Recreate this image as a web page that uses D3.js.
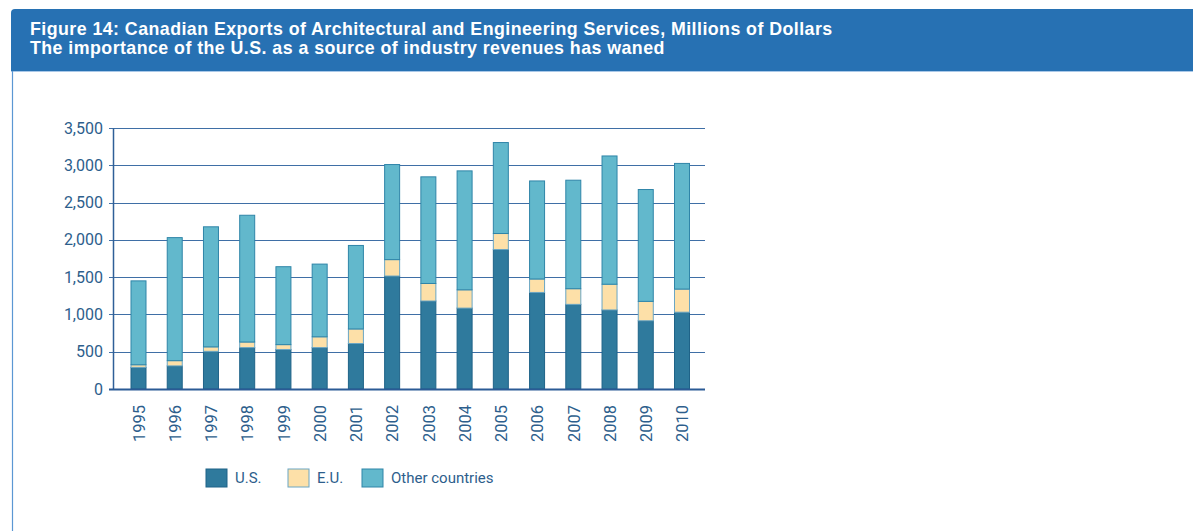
<!DOCTYPE html>
<html>
<head>
<meta charset="utf-8">
<script src="https://cdn.jsdelivr.net/npm/d3@7/dist/d3.min.js"></script>
<style>
  html, body { margin: 0; padding: 0; background: #ffffff; }
  svg { display: block; }
</style>
</head>
<body>
<script>
// Canadian exports of architectural and engineering services ($ millions)
const years = ["1995","1996","1997","1998","1999","2000","2001","2002",
               "2003","2004","2005","2006","2007","2008","2009","2010"];
const usValues    = [290, 310, 505, 555, 530, 555, 610, 1515, 1180, 1085, 1870, 1295, 1135, 1060, 915, 1030];
const euValues    = [35, 70, 60, 75, 65, 145, 195, 220, 235, 245, 215, 180, 210, 345, 260, 310];
const otherValues = [1125, 1650, 1610, 1700, 1045, 975, 1120, 1275, 1430, 1595, 1220, 1315, 1455, 1720, 1500, 1685];
const seriesNames = ["U.S.", "E.U.", "Other countries"];
const yTicks = [0, 500, 1000, 1500, 2000, 2500, 3000, 3500];
const titleLines = [
  "Figure 14: Canadian Exports of Architectural and Engineering Services, Millions of Dollars",
  "The importance of the U.S. as a source of industry revenues has waned"
];

const W = 1193, H = 531;
const fills   = ["#2f7a9d", "#fde0a8", "#62b8cc"];
const strokes = ["#1f6388", "#6aa6c4", "#2f85a8"];
const textColor = "#2d5e8c";
const font = "Roboto, 'Liberation Sans', Arial, sans-serif";

const svg = d3.select("body").append("svg").attr("width", W).attr("height", H);

// Panel: header band with a thin left rule running down the page
svg.append("path")
  .attr("d", `M11,71 L11,13 Q11,9 15,9 L${W},9 L${W},71 Z`)
  .attr("fill", "#2771b3");
svg.append("line").attr("x1", 11).attr("x2", W).attr("y1", 71.5).attr("y2", 71.5)
  .attr("stroke", "#a9c8e8").attr("stroke-width", 1);
svg.append("line").attr("x1", 12.5).attr("x2", 12.5).attr("y1", 71).attr("y2", H)
  .attr("stroke", "#5b97d3").attr("stroke-width", 1.2);

svg.selectAll("text.title").data(titleLines).join("text")
  .attr("class", "title")
  .attr("x", 30).attr("y", (d, i) => 35 + i * 18.5)
  .attr("fill", "#ffffff")
  .attr("font-family", "'Liberation Sans', Arial, sans-serif")
  .attr("font-weight", "bold").attr("font-size", 17.8)
  .attr("letter-spacing", 0.45)
  .text(d => d);

// Plot area
const x0 = 113, x1 = 705, yBase = 389, yTop = 128;
const barW = 15;
const x = d3.scalePoint().domain(years).range([138.5, 682]);
const y = d3.scaleLinear().domain([0, 3500]).range([yBase, yTop]);

const stackData = years.map((yr, i) => ({ year: yr, us: usValues[i], eu: euValues[i], other: otherValues[i] }));
const stack = d3.stack().keys(["us", "eu", "other"])(stackData);

// Gridlines
svg.append("g").selectAll("line").data(yTicks.filter(t => t > 0)).join("line")
  .attr("x1", x0 - 4).attr("x2", x1)
  .attr("y1", d => Math.round(y(d)) + 0.5).attr("y2", d => Math.round(y(d)) + 0.5)
  .attr("stroke", "#3f6fa6").attr("stroke-width", 1.2);

// Y axis
const yAxis = svg.append("g").attr("transform", `translate(${x0},0)`)
  .call(d3.axisLeft(y).tickValues(yTicks).tickFormat(d3.format(",")).tickSize(0).tickPadding(10));
yAxis.select(".domain").attr("stroke", "#2f5f98").attr("stroke-width", 1.5);
yAxis.selectAll("text").attr("fill", textColor).attr("font-family", font).attr("font-size", 16);

// Stacked bars
svg.append("g").selectAll("g").data(stack).join("g")
  .attr("fill", (d, i) => fills[i]).attr("stroke", (d, i) => strokes[i]).attr("stroke-width", 1)
  .selectAll("rect").data(d => d).join("rect")
  .attr("x", d => x(d.data.year) - barW / 2)
  .attr("width", barW)
  .attr("y", d => y(d[1]))
  .attr("height", d => y(d[0]) - y(d[1]));

// Baseline
svg.append("line").attr("x1", x0 - 4).attr("x2", x1)
  .attr("y1", yBase + 0.5).attr("y2", yBase + 0.5)
  .attr("stroke", "#2b5a95").attr("stroke-width", 2.2);

// X axis labels, rotated
const xAxis = svg.append("g").attr("transform", `translate(0,${yBase})`)
  .call(d3.axisBottom(x).tickSize(0).tickPadding(0));
xAxis.select(".domain").remove();
xAxis.selectAll("text")
  .attr("fill", textColor).attr("font-family", font).attr("font-size", 16.5)
  .attr("transform", "rotate(-90)")
  .attr("text-anchor", "end")
  .attr("x", -16).attr("y", 0).attr("dy", "0.35em");

// Legend
const legendX = [206, 288, 362];
const legend = svg.append("g").selectAll("g").data(seriesNames).join("g")
  .attr("transform", (d, i) => `translate(${legendX[i]},469)`);
legend.append("rect").attr("width", 21).attr("height", 18)
  .attr("fill", (d, i) => fills[i]).attr("stroke", (d, i) => strokes[i]).attr("stroke-width", 1);
legend.append("text").attr("x", 29).attr("y", 9).attr("dy", "0.36em")
  .attr("fill", textColor).attr("font-family", font).attr("font-size", 15)
  .text(d => d);
</script>
</body>
</html>
